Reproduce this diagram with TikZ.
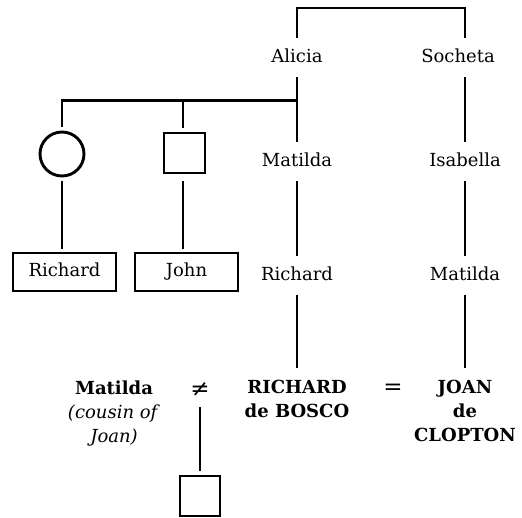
\documentclass[tikz,border=0pt]{standalone}
\usepackage{fontspec}
\setmainfont{DejaVu Serif}
\begin{document}
\begin{tikzpicture}[x=1pt,y=-1pt,line width=2.9pt,
  txt/.style={font=\fontsize{18}{24}\selectfont},
  person/.style={txt,text height=13pt,text depth=4pt,inner xsep=2pt,inner ysep=10pt,anchor=base},
  framed/.style={txt,draw,text height=13pt,text depth=4pt,minimum width=103pt,minimum height=38pt,inner sep=0pt},
  female/.style={draw,circle,minimum size=44pt,inner sep=0pt},
  male/.style={draw,rectangle,minimum width=41pt,minimum height=40pt,inner sep=0pt},
  principal/.style={txt,align=center,inner xsep=0pt,inner ysep=11pt,anchor=north},
  sign/.style={font=\fontsize{23}{24}\selectfont,inner sep=0pt}]
\useasboundingbox (0,0) rectangle (522,517);

% generations on the two main lines
\node[person] (alicia)   at (297,62)  {Alicia};
\node[person] (socheta)  at (458,62)  {Socheta};
\node[person] (matildaA) at (297,166) {Matilda};
\node[person] (isabella) at (465,166) {Isabella};
\node[person] (richardA) at (297,280) {Richard};
\node[person] (matildaB) at (465,280) {Matilda};

% Alicia's other children and grandchildren
\coordinate (j)  at (297,100.5);
\coordinate (jl) at (62,100.5);
\coordinate (jm) at (183,100.5);
\node[female] (sister)  at (62,154)   {};
\node[male]   (brother) at (184.5,153) {};
\node[framed] (richardB) at (64.5,272) {Richard};
\node[framed] (john)     at (186.5,272) {John};

% the marriage row
\node[principal] (bosco) at (297,368) {\textbf{RICHARD}\\\textbf{de BOSCO}};
\node[principal] (joan)  at (465,368) {\textbf{JOAN}\\\textbf{de}\\\textbf{CLOPTON}};
\node[txt,align=center,inner sep=0pt,anchor=north] (cousin) at (114,379)
  {\textbf{Matilda}\\\textit{(cousin of}\\\textit{Joan)}};
\node[sign] (ne) at (200,390) {≠};
\node[sign] (eq) at (393,389) {=};
\node[inner sep=0pt,minimum height=30pt] (neline) at (200,391) {};
\node[male,minimum width=40pt] (child) at (200,496) {};

% connectors
\coordinate (st) at (465,8);
\draw (alicia.north) -- (alicia.north |- st) -- (st) -- (st |- socheta.north);
\draw (alicia) -- (matildaA);
\draw (matildaA) -- (richardA);
\draw (richardA) -- (bosco);
\draw (socheta.south -| isabella) -- (isabella);
\draw (isabella) -- (matildaB);
\draw (matildaB) -- (joan);
\draw[shorten <=4pt] (sister) -- (jl) -- (j);
\draw[shorten <=4pt] (brother.north -| jm) -- (jm);
\draw[shorten <=4pt,shorten >=3pt] (sister) -- (richardB.north -| sister);
\draw[shorten <=7pt,shorten >=3pt] (brother.south -| jm) -- (john.north -| jm);
\draw[shorten >=4pt] (neline) -- (child);
\end{tikzpicture}
\end{document}
